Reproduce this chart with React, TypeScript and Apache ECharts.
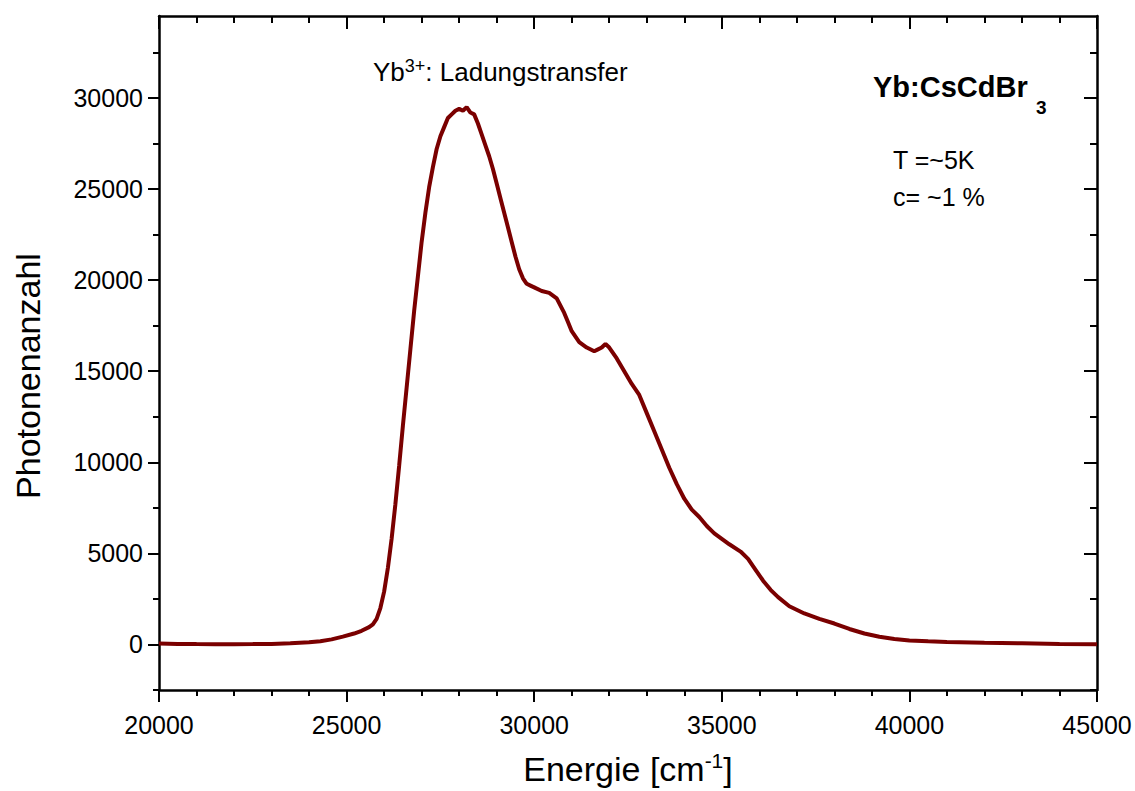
import React, { useEffect, useRef } from "react";
import * as echarts from "echarts";

const energy: number[] = [
  20000, 20500, 21000, 21500, 22000, 22500, 23000, 23500, 24000, 24300, 24600, 24900,
  25200, 25400, 25600, 25700, 25800, 25900, 26000, 26100, 26200, 26300, 26400, 26500,
  26600, 26700, 26800, 26900, 27000, 27100, 27200, 27300, 27400, 27500, 27600, 27700,
  27800, 27900, 28000, 28100, 28200, 28300, 28400, 28500, 28600, 28700, 28800, 28900,
  29000, 29100, 29200, 29300, 29400, 29500, 29600, 29700, 29800, 29900, 30000, 30200,
  30400, 30600, 30800, 30900, 31000, 31200, 31400, 31600, 31700, 31800, 31900, 32000,
  32200, 32400, 32600, 32800, 33000, 33200, 33400, 33600, 33800, 34000, 34200, 34400,
  34600, 34800, 35000, 35200, 35500, 35700, 35900, 36100, 36300, 36500, 36800, 37200,
  37600, 38000, 38400, 38800, 39200, 39600, 40000, 40500, 41000, 42000, 43000, 44000, 45000,
];

const photons: number[] = [
  50, 30, 20, 15, 15, 20, 30, 60, 120, 180, 280, 430,
  600, 750, 950, 1100, 1400, 2000, 2900, 4200, 5800, 7700, 9800, 12000,
  14100, 16200, 18300, 20200, 22100, 23700, 25100, 26200, 27200, 27900, 28400, 28900,
  29100, 29300, 29400, 29300, 29500, 29200, 29100, 28600, 28000, 27400, 26800, 26100,
  25300, 24500, 23700, 22900, 22100, 21300, 20600, 20100, 19800, 19700, 19600, 19400,
  19300, 19000, 18200, 17700, 17200, 16600, 16300, 16100, 16200, 16300, 16500, 16300,
  15700, 15000, 14300, 13700, 12700, 11700, 10700, 9700, 8800, 8000, 7400, 7000,
  6500, 6100, 5800, 5500, 5100, 4700, 4100, 3500, 3000, 2600, 2100, 1700,
  1400, 1150, 850, 600, 420, 300, 220, 170, 130, 90, 60, 30, 10,
];

const yMajorTicks: number[] = [0, 5000, 10000, 15000, 20000, 25000, 30000];
const yMinorTicks: number[] = [-2500, 2500, 7500, 12500, 17500, 22500, 27500, 32500];

const FONT = "'Liberation Sans', Arial, Helvetica, sans-serif";
const W = 1135;
const H = 791;

export default function App() {
  const ref = useRef<HTMLDivElement>(null);

  useEffect(() => {
    if (!ref.current) return;
    const chart = echarts.init(ref.current, null, { renderer: "svg", width: W, height: H });
    const black = "#000";
    const lineW = 2.5;
    const plain = (v: number) => String(v);

    const yBase = {
      type: "value",
      min: -2500,
      max: 34500,
      interval: 2500,
      splitLine: { show: false },
      axisLine: { show: true, lineStyle: { color: black, width: lineW } },
    };
    const xBase = {
      type: "value",
      min: 20000,
      max: 45000,
      interval: 5000,
      splitLine: { show: false },
      axisLine: { show: true, onZero: false, lineStyle: { color: black, width: lineW } },
    };

    const option: any = {
      animation: false,
      backgroundColor: "#fff",
      grid: { left: 159, right: 38, top: 16, bottom: 96 },
      xAxis: [
        {
          ...xBase,
          position: "bottom",
          name: "{a|Energie [cm}{s|-1}{a|]}",
          nameLocation: "middle",
          nameGap: 60,
          nameTextStyle: {
            color: black,
            fontFamily: FONT,
            rich: {
              a: { fontSize: 34, fontFamily: FONT, color: black, lineHeight: 38 },
              s: { fontSize: 21, fontFamily: FONT, color: black, lineHeight: 23, verticalAlign: "top" },
            },
          },
          axisTick: { show: true, inside: false, length: 12, lineStyle: { color: black, width: 2 } },
          minorTick: { show: true, splitNumber: 5, length: 6, lineStyle: { color: black, width: 2 } },
          axisLabel: { show: true, margin: 22, fontSize: 25, color: black, fontFamily: FONT, formatter: plain, showMinLabel: true, showMaxLabel: true },
        },
        {
          ...xBase,
          position: "top",
          axisTick: { show: true, inside: true, length: 13, lineStyle: { color: black, width: 2 } },
          minorTick: { show: true, splitNumber: 5, length: 7, lineStyle: { color: black, width: 2 } },
          axisLabel: { show: false },
        },
      ],
      yAxis: [
        {
          ...yBase,
          position: "left",
          axisTick: { show: true, inside: false, length: 11, customValues: yMajorTicks, lineStyle: { color: black, width: 2 } },
          axisLabel: { show: true, margin: 16, fontSize: 25, color: black, fontFamily: FONT, customValues: yMajorTicks, formatter: plain },
        },
        {
          ...yBase,
          position: "left",
          axisLine: { show: false },
          axisTick: { show: true, inside: false, length: 6, customValues: yMinorTicks, lineStyle: { color: black, width: 2 } },
          axisLabel: { show: false },
        },
        {
          ...yBase,
          position: "right",
          axisTick: { show: true, inside: true, length: 13, customValues: yMajorTicks, lineStyle: { color: black, width: 2 } },
          axisLabel: { show: false },
        },
        {
          ...yBase,
          position: "right",
          axisLine: { show: false },
          axisTick: { show: true, inside: true, length: 7, customValues: yMinorTicks, lineStyle: { color: black, width: 2 } },
          axisLabel: { show: false },
        },
      ],
      series: [
        {
          type: "line",
          xAxisIndex: 0,
          yAxisIndex: 0,
          data: energy.map((e, i) => [e, photons[i]]),
          showSymbol: false,
          symbol: "none",
          lineStyle: { color: "#7a0000", width: 4 },
          z: 3,
        },
      ],
      graphic: [
        {
          type: "text",
          x: 28,
          y: 376,
          rotation: Math.PI / 2,
          style: {
            text: "Photonenanzahl",
            font: `34px ${FONT}`,
            fill: black,
            align: "center",
            verticalAlign: "middle",
          },
        },
        {
          type: "text",
          x: 373,
          y: 72,
          style: {
            text: "{a|Yb}{s|3+}{a|: Ladungstransfer}",
            fill: black,
            align: "left",
            verticalAlign: "middle",
            rich: {
              a: { fontSize: 26, fontFamily: FONT, fill: black, lineHeight: 30 },
              s: { fontSize: 18, fontFamily: FONT, fill: black, lineHeight: 21, verticalAlign: "top" },
            },
          },
        },
        {
          type: "text",
          x: 873,
          y: 87,
          style: {
            text: "Yb:CsCdBr",
            font: `bold 29px ${FONT}`,
            fill: black,
            align: "left",
            verticalAlign: "middle",
          },
        },
        {
          type: "text",
          x: 1036,
          y: 107,
          style: {
            text: "3",
            font: `bold 19px ${FONT}`,
            fill: black,
            align: "left",
            verticalAlign: "middle",
          },
        },
        {
          type: "text",
          x: 893,
          y: 160,
          style: {
            text: "T =~5K",
            font: `25px ${FONT}`,
            fill: black,
            align: "left",
            verticalAlign: "middle",
          },
        },
        {
          type: "text",
          x: 893,
          y: 197,
          style: {
            text: "c= ~1 %",
            font: `25px ${FONT}`,
            fill: black,
            align: "left",
            verticalAlign: "middle",
          },
        },
      ],
    };

    chart.setOption(option);
    return () => chart.dispose();
  }, []);

  return (
    <div
      ref={ref}
      style={{ position: "fixed", left: 0, top: 0, width: W, height: H, background: "#fff" }}
    />
  );
}
